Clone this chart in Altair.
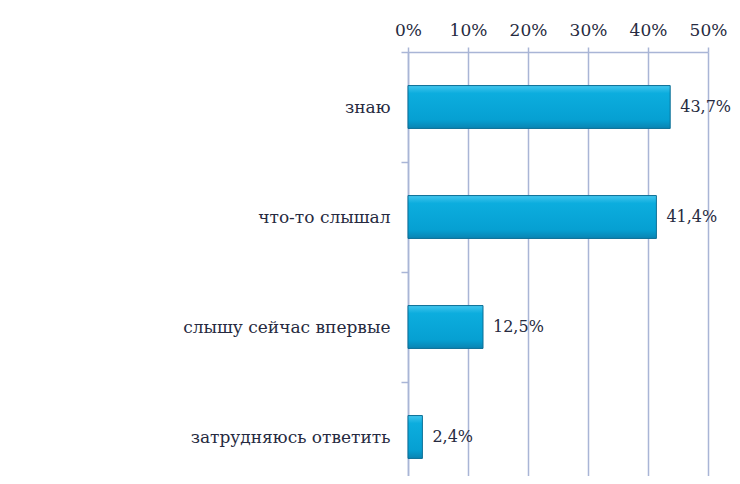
import altair as alt
import pandas as pd

categories = ["знаю", "что-то слышал", "слышу сейчас впервые", "затрудняюсь ответить"]
values = [43.7, 41.4, 12.5, 2.4]
tick_values = [0, 0.1, 0.2, 0.3, 0.4, 0.5]

labels = [f"{v:.1f}".replace(".", ",") + "%" for v in values]
df = pd.DataFrame({"cat": categories, "val": [v / 100 for v in values], "label": labels})

FONT = "DejaVu Serif"
FS = 17
TXT = "#262a40"
GRID = "#a9b5d6"

y_enc = alt.Y(
    "cat:N",
    sort=categories,
    scale=alt.Scale(range=[0, 440], paddingInner=0, paddingOuter=0),
    axis=alt.Axis(
        title=None,
        orient="left",
        tickBand="extent",
        tickSize=7,
        tickColor=GRID,
        tickWidth=1.5,
        domainColor=GRID,
        domainWidth=1.5,
        labelPadding=11,
        labelLimit=400,
        labelFont=FONT,
        labelFontSize=FS,
        labelColor=TXT,
        grid=False,
    ),
)

x_enc = alt.X(
    "val:Q",
    scale=alt.Scale(domain=[0, 0.5], nice=False),
    axis=alt.Axis(
        title=None,
        orient="top",
        values=tick_values,
        format=".0%",
        tickSize=5,
        tickColor=GRID,
        tickWidth=1.5,
        domainColor=GRID,
        domainWidth=1.5,
        grid=True,
        gridColor=GRID,
        gridWidth=1.5,
        labelFlush=False,
        labelPadding=8,
        labelFont=FONT,
        labelFontSize=FS,
        labelColor=TXT,
    ),
)

bars = alt.Chart(df).mark_bar(
    height=alt.RelativeBandSize(0.39),
    color=alt.LinearGradient(
        gradient="linear",
        x1=0, x2=0, y1=0, y2=1,
        stops=[
            alt.GradientStop(offset=0, color="#43c6ee"),
            alt.GradientStop(offset=0.18, color="#0cadde"),
            alt.GradientStop(offset=0.8, color="#06a0d2"),
            alt.GradientStop(offset=1, color="#0a84b2"),
        ],
    ),
    stroke="#0b6f96",
    strokeWidth=1,
).encode(x=x_enc, y=y_enc)

text = alt.Chart(df).mark_text(
    align="left", baseline="middle", dx=10, font=FONT, fontSize=16, color=TXT
).encode(x="val:Q", y=alt.Y("cat:N", sort=categories), text="label:N")

chart = (
    alt.layer(bars, text)
    .properties(
        width=300,
        height=424,
        padding={"left": 400, "top": 44, "right": 24, "bottom": 0},
        autosize=alt.AutoSizeParams(type="none"),
        background="white",
    )
    .configure_view(strokeWidth=0)
)

chart.save("out.html", embed_options={"renderer": "svg", "actions": False})
